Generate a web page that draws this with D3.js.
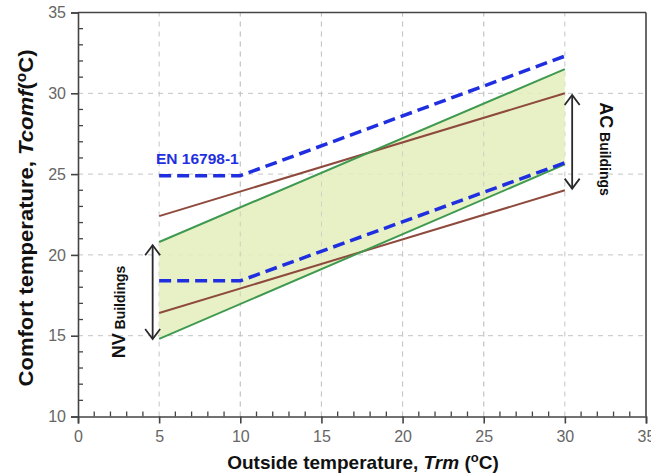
<!DOCTYPE html>
<html><head><meta charset="utf-8">
<script src="https://cdn.jsdelivr.net/npm/d3@7/dist/d3.min.js"></script>
<style>body{margin:0;background:#fff}svg{display:block}</style>
</head><body>
<svg id="c" width="651" height="476"></svg>
<script>
// Data
const xTicks = [0, 5, 10, 15, 20, 25, 30, 35];
const yTicks = [10, 15, 20, 25, 30, 35];
const trmEnds = [5, 30];
const greenUpper = [20.8, 31.5];
const greenLower = [14.8, 25.6];
const brownUpper = [22.4, 30.0];
const brownLower = [16.4, 24.0];
const enX = [5, 10, 30];
const enUpper = [24.9, 24.9, 32.3];
const enLower = [18.4, 18.4, 25.7];
const nvArrow = {x: 4.6, y: [20.6, 14.8]};
const acArrow = {x: 30.45, y: [29.9, 24.1]};

const svg = d3.select("#c");
const x = d3.scaleLinear().domain([0, 35]).range([78, 646]);
const y = d3.scaleLinear().domain([10, 35]).range([416.5, 12.5]);
const font = "'Liberation Sans', Arial, sans-serif";

// grid
const g = svg.append("g");
g.selectAll(".gx").data(xTicks.filter(d => d > 0 && d < 35)).join("line")
  .attr("x1", d => x(d)).attr("x2", d => x(d)).attr("y1", y(10)).attr("y2", y(35))
  .attr("stroke", "#c4c4c4").attr("stroke-width", 1).attr("stroke-dasharray", "5,5");
g.selectAll(".gy").data(yTicks.filter(d => d > 10 && d < 35)).join("line")
  .attr("y1", d => y(d)).attr("y2", d => y(d)).attr("x1", x(0)).attr("x2", x(35))
  .attr("stroke", "#c4c4c4").attr("stroke-width", 1).attr("stroke-dasharray", "5,5");

// fill band
const band = trmEnds.map((t, i) => ({t, hi: greenUpper[i], lo: greenLower[i]}));
svg.append("path").datum(band)
  .attr("d", d3.area().x(d => x(d.t)).y0(d => y(d.lo)).y1(d => y(d.hi)))
  .attr("fill", "#e4efbc").attr("opacity", 0.85);

// redraw grid faintly over fill
svg.append("g").selectAll("line").data(xTicks.filter(d => d >= 10 && d <= 25)).join("line")
  .attr("x1", d => x(d)).attr("x2", d => x(d)).attr("y1", y(10)).attr("y2", y(35))
  .attr("stroke", "#c4c4c4").attr("stroke-width", 1).attr("stroke-dasharray", "5,5").attr("opacity", 0.6);

const line2 = d3.line().x(d => x(d[0])).y(d => y(d[1]));
const pairs = (xs, ys) => xs.map((v, i) => [v, ys[i]]);

// brown lines
[brownUpper, brownLower].forEach(arr => {
  svg.append("path").datum(pairs(trmEnds, arr)).attr("d", line2)
    .attr("fill", "none").attr("stroke", "#8e4a3c").attr("stroke-width", 2);
});
// green lines
[greenUpper, greenLower].forEach(arr => {
  svg.append("path").datum(pairs(trmEnds, arr)).attr("d", line2)
    .attr("fill", "none").attr("stroke", "#3f9a4f").attr("stroke-width", 2);
});
// blue dashed
[enUpper, enLower].forEach(arr => {
  svg.append("path").datum(pairs(enX, arr)).attr("d", line2)
    .attr("fill", "none").attr("stroke", "#1f2fe0").attr("stroke-width", 3.5)
    .attr("stroke-dasharray", "12,6");
});

// axes
const ax = svg.append("g").attr("transform", `translate(0,${y(10)})`)
  .call(d3.axisBottom(x).tickValues(xTicks).tickSize(7).tickPadding(6));
const ay = svg.append("g").attr("transform", `translate(${x(0)},0)`)
  .call(d3.axisLeft(y).tickValues(yTicks).tickSize(7).tickPadding(5));
[ax, ay].forEach(a => {
  a.select(".domain").attr("stroke", "#444").attr("stroke-width", 1.6);
  a.selectAll(".tick line").attr("stroke", "#444").attr("stroke-width", 1.6);
  a.selectAll(".tick text").attr("fill", "#666").attr("font-size", 16).attr("font-family", font);
});
ax.selectAll(".tick text").attr("dy", "0.8em");
// minor ticks (inside)
const minorX = d3.range(1, 35).filter(d => d % 5 !== 0);
svg.append("g").selectAll("line").data(minorX).join("line")
  .attr("x1", d => x(d)).attr("x2", d => x(d)).attr("y1", y(10)).attr("y2", y(10) - 5)
  .attr("stroke", "#444").attr("stroke-width", 1.3);
const minorY = d3.range(11, 35).filter(d => d % 5 !== 0);
svg.append("g").selectAll("line").data(minorY).join("line")
  .attr("y1", d => y(d)).attr("y2", d => y(d)).attr("x1", x(0)).attr("x2", x(0) + 5)
  .attr("stroke", "#444").attr("stroke-width", 1.3);
// top and right borders
svg.append("line").attr("x1", x(0)).attr("x2", x(35)).attr("y1", y(35)).attr("y2", y(35))
  .attr("stroke", "#444").attr("stroke-width", 1.6);
svg.append("line").attr("x1", x(35)).attr("x2", x(35)).attr("y1", y(35)).attr("y2", y(10))
  .attr("stroke", "#444").attr("stroke-width", 1.6);

// arrows
function dblArrow(xv, y1v, y2v) {
  const px = x(xv), a = y(y1v), b = y(y2v);
  const s = svg.append("g").attr("stroke", "#2a2a2a").attr("stroke-width", 1.8).attr("fill", "none");
  s.append("line").attr("x1", px).attr("x2", px).attr("y1", a).attr("y2", b);
  const top = Math.min(a, b), bot = Math.max(a, b);
  s.append("path").attr("d", `M${px - 7.5},${top + 10} L${px},${top} L${px + 7.5},${top + 10}`);
  s.append("path").attr("d", `M${px - 7.5},${bot - 10} L${px},${bot} L${px + 7.5},${bot - 10}`);
}
dblArrow(nvArrow.x, nvArrow.y[0], nvArrow.y[1]);
dblArrow(acArrow.x, acArrow.y[0], acArrow.y[1]);

// labels
const nv = svg.append("text").attr("transform", `translate(125,312) rotate(-90)`)
  .attr("text-anchor", "middle").attr("font-family", font).attr("font-weight", "bold").attr("fill", "#111");
nv.append("tspan").attr("font-size", 18).text("NV");
nv.append("tspan").attr("font-size", 14).text(" Buildings");

const ac = svg.append("text").attr("transform", `translate(600,149) rotate(90)`)
  .attr("text-anchor", "middle").attr("font-family", font).attr("font-weight", "bold").attr("fill", "#111");
ac.append("tspan").attr("font-size", 18).text("AC");
ac.append("tspan").attr("font-size", 14).text(" Buildings");

svg.append("text").attr("x", 156).attr("y", 164).attr("font-family", font).attr("font-weight", "bold")
  .attr("font-size", 15.5).attr("fill", "#1f2fe0").text("EN 16798-1");

// axis titles
const xt = svg.append("text").attr("x", 363).attr("y", 469).attr("text-anchor", "middle")
  .attr("font-family", font).attr("font-weight", "bold").attr("font-size", 19).attr("fill", "#111");
xt.append("tspan").text("Outside temperature, ");
xt.append("tspan").attr("font-style", "italic").text("Trm");
xt.append("tspan").text(" (");
xt.append("tspan").attr("font-size", 13).attr("dy", -7).text("o");
xt.append("tspan").attr("dy", 7).text("C)");

const yt = svg.append("text").attr("transform", `translate(33,218) rotate(-90)`).attr("text-anchor", "middle")
  .attr("font-family", font).attr("font-weight", "bold").attr("font-size", 20).attr("fill", "#111")
  .attr("textLength", 337).attr("lengthAdjust", "spacingAndGlyphs");
yt.append("tspan").text("Comfort temperature, ");
yt.append("tspan").attr("font-style", "italic").text("Tcomf");
yt.append("tspan").text("(");
yt.append("tspan").attr("font-size", 14).attr("dy", -7).text("o");
yt.append("tspan").attr("dy", 7).text("C)");
</script>
</body></html>
